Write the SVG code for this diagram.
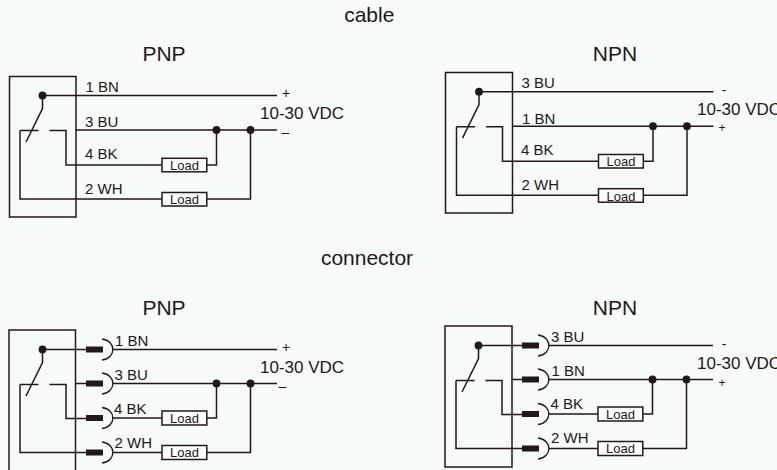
<svg xmlns="http://www.w3.org/2000/svg" width="777" height="470" viewBox="0 0 777 470">
<style>
text{font-family:"Liberation Sans",Arial,sans-serif;fill:#231815}
.t{font-size:21px;text-anchor:middle}
.l{font-size:15px}
.v{font-size:17px}
.s{font-size:14px;text-anchor:middle}
.s2{font-size:12px;text-anchor:middle}
.ld{font-size:13px;text-anchor:middle}
.w{fill:none;stroke:#231815;stroke-width:1.5}
.b{fill:none;stroke:#231815;stroke-width:1.5}
.h{fill:#fff;stroke:#231815;stroke-width:1.5}
.d{fill:#231815}
.p{fill:#231815}
.a{fill:none;stroke:#231815;stroke-width:1.3}
</style>
<defs>
<g id="sw">
<path class="w" d="M33 0H267.500M33 0V13L16.500 46.500"/>
<path class="w" d="M10.500 35H29M40 35H56.500V69.500H152M10.500 35V103.500H152"/>
<rect class="h" x="152.500" y="62.800" width="44.800" height="13.500"/>
<rect class="h" x="152.500" y="97" width="44.800" height="13.500"/>
<path class="w" d="M66 34.500H267.500M197.500 69.500H207V34.500M197.500 103.500H241V34.500"/>
<circle class="d" cx="33" cy="0" r="3.900"/>
<circle class="d" cx="207" cy="34.500" r="3.900"/>
<circle class="d" cx="241" cy="34.500" r="3.900"/>
</g>
<g id="swc">
<path class="w" d="M33 0H87M33 0V13L16.500 46.500"/>
<path class="w" d="M10.500 35H29M40 35H56.500V69H87M10.500 35V103H87"/>
<path class="w" d="M66 34H87"/>
<rect class="p" x="76.500" y="-3" width="17" height="6"/>
<rect class="p" x="76.500" y="31" width="17" height="6"/>
<rect class="p" x="76.500" y="65.500" width="17" height="6"/>
<rect class="p" x="76.500" y="100" width="17" height="6"/>
<path class="a" d="M92.500 -10.500C107 -9 107 9 92.500 10.500"/>
<path class="a" d="M92.500 23.500C107 25 107 43 92.500 44.500"/>
<path class="a" d="M92.500 58C107 59.500 107 77.500 92.500 79"/>
<path class="a" d="M92.500 92.500C107 94 107 112 92.500 113.500"/>
<path class="w" d="M103 0H267.500M103 34H267.500M103 68.500H152.500M103 103H152.500"/>
<rect class="h" x="152.500" y="61.500" width="44.800" height="14"/>
<rect class="h" x="152.500" y="96" width="44.800" height="14"/>
<path class="w" d="M197.500 68.500H207V34M197.500 103H241V34"/>
<circle class="d" cx="33" cy="0" r="3.900"/>
<circle class="d" cx="207" cy="34" r="3.900"/>
<circle class="d" cx="241" cy="34" r="3.900"/>
</g>
</defs>
<rect width="777" height="470" fill="#f6fbfa"/>
<text class="t" x="369.300" y="22">cable</text>
<text class="t" x="367" y="265">connector</text>
<g id="connectors">
<use href="#sw" x="9.500" y="95.500"/>
<use href="#sw" x="446" y="91.700"/>
<use href="#swc" x="9.500" y="349.500"/>
<use href="#swc" x="445.500" y="345.500"/>
</g>
<g id="pnp-cable">
<rect class="b" x="9.500" y="76.500" width="66.500" height="140.500"/>
<text class="t" x="164" y="61">PNP</text>
<text class="l" x="85.500" y="92">1 BN</text><text class="l" x="85" y="127">3 BU</text>
<text class="l" x="85" y="159">4 BK</text><text class="l" x="85" y="194">2 WH</text>
<text class="s" x="286" y="98">+</text><text class="s" x="285.300" y="137">–</text>
<text class="v" x="260" y="119">10-30 VDC</text>
<text class="ld" x="184.500" y="170">Load</text><text class="ld" x="184.500" y="204">Load</text>
</g>
<g id="npn-cable">
<rect class="b" x="445.500" y="72.500" width="67" height="140.500"/>
<text class="t" x="615" y="61">NPN</text>
<text class="l" x="521.500" y="88">3 BU</text><text class="l" x="522" y="123.500">1 BN</text>
<text class="l" x="521" y="155">4 BK</text><text class="l" x="521.500" y="190">2 WH</text>
<text class="s" x="724" y="94.500">-</text><text class="s2" x="722" y="132">+</text>
<text class="v" x="697" y="115">10-30 VDC</text>
<text class="ld" x="621" y="166">Load</text><text class="ld" x="621" y="200.500">Load</text>
</g>
<g id="pnp-connector">
<rect class="b" x="9" y="330" width="66.500" height="145"/>
<text class="t" x="164" y="315">PNP</text>
<text class="l" x="115" y="346">1 BN</text><text class="l" x="114.500" y="380">3 BU</text>
<text class="l" x="114" y="413.500">4 BK</text><text class="l" x="114.500" y="447.500">2 WH</text>
<text class="s" x="286" y="352">+</text><text class="s" x="282.500" y="391">–</text>
<text class="v" x="260" y="373">10-30 VDC</text>
<text class="ld" x="184.500" y="423">Load</text><text class="ld" x="184.500" y="457">Load</text>
</g>
<g id="npn-connector">
<rect class="b" x="445" y="326" width="67" height="141"/>
<text class="t" x="615" y="315">NPN</text>
<text class="l" x="551" y="342">3 BU</text><text class="l" x="551.500" y="376">1 BN</text>
<text class="l" x="550.500" y="409">4 BK</text><text class="l" x="551" y="443">2 WH</text>
<text class="s" x="724" y="348.500">-</text><text class="s2" x="722" y="386.500">+</text>
<text class="v" x="697" y="369">10-30 VDC</text>
<text class="ld" x="620.500" y="419">Load</text><text class="ld" x="620.500" y="453">Load</text>
</g>
</svg>
